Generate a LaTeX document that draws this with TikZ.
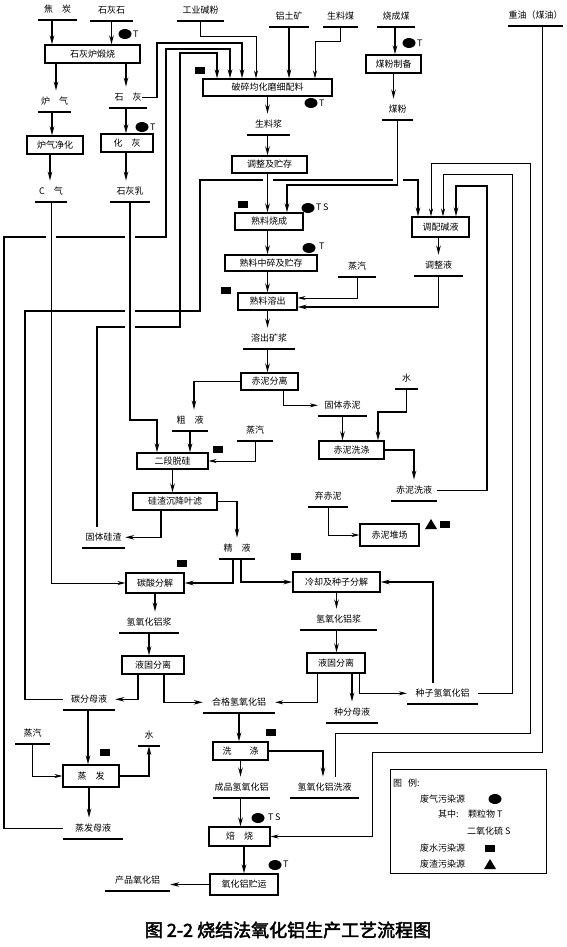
\documentclass[tikz,border=0pt]{standalone}
\usepackage{fontspec}
\setmainfont{Noto Sans CJK SC}[AutoFakeBold=2.5]
\usetikzlibrary{arrows.meta}
\newcommand\cjksp{\hspace{9pt}}
\newcommand\blob[2]{\fill (#1,#2) ellipse [x radius=6.5pt, y radius=5pt];}
\newcommand\wsq[2]{\fill (#1-5,#2-3.5) rectangle (#1+5,#2+3.5);}
\newcommand\tri[2]{\fill (#1-6,#2+5) -- (#1+6,#2+5) -- (#1,#2-5) -- cycle;}
\newcommand\crossgap[3]{\fill[white] (#1-5,#2-2.6) rectangle (#1+5,#2+2.6); \draw[line width=#3] (#1,#2-3.5) -- (#1,#2+3.5);}
\begin{document}
\begin{tikzpicture}[x=1pt,y=-1pt,
  every node/.style={font=\fontsize{9}{10}\selectfont},
  bx/.style 2 args={draw,line width=1.1pt,inner sep=0pt,minimum width=#1pt,minimum height=#2pt},
  lab/.style={anchor=south,inner xsep=0pt,inner ysep=6pt,text height=7.5pt,text depth=1.5pt,minimum width=#1pt},
  uline/.style={line width=1.6pt},
  flow/.style={line width=1.5pt,-{Stealth[length=9pt,width=4.5pt]}},
  thin/.style={line width=0.8pt,-{Stealth[length=8pt,width=4pt]}},
  mk/.style={anchor=west,inner sep=0pt}]
\fill[white] (0,0) rectangle (567,947);
\useasboundingbox (0,0) rectangle (567,947);

% ---------- nodes ----------
\node[lab=39] (jt) at (57.5,20) {焦\cjksp 炭};
\node[lab=43] (shs) at (111.5,21) {石灰石};
\node[lab=47] (gyjf) at (200.5,21) {工业碱粉};
\node[lab=40] (lt) at (289,27) {铝土矿};
\node[lab=35] (slm) at (340.5,27) {生料煤};
\node[lab=38] (scm) at (396,27) {烧成煤};
\node[lab=55] (zy) at (535.5,26) {重油（煤油）};
\node[bx={95}{18}] (shlds) at (92.5,54) {石灰炉煅烧};
\node[lab=33] (lq) at (54.5,112) {炉\cjksp 气};
\node[bx={56}{18}] (lqjh) at (55,145) {炉气净化};
\node[lab=32] (cq) at (51,202) {C\cjksp 气};
\node[lab=38] (sh) at (128,108) {石\cjksp 灰};
\node[bx={52}{18}] (hh) at (127,143) {化\cjksp 灰};
\node[lab=40] (shr) at (130,202) {石灰乳};
\node[bx={129}{17}] (psjh) at (267.5,87.5) {破碎均化磨细配料};
\node[bx={55}{18}] (mfzb) at (393.5,64) {煤粉制备};
\node[lab=31] (mf) at (397.5,120) {煤粉};
\node[lab=43] (slj) at (268.5,135) {生料浆};
\node[bx={75}{17}] (tzzc) at (269.5,164.5) {调整及贮存};
\node[bx={68}{17}] (slsc) at (269,221.5) {熟料烧成};
\node[bx={92}{16}] (slzs) at (271,263) {熟料中碎及贮存};
\node[bx={59}{17}] (slrc) at (267.5,301.5) {熟料溶出};
\node[lab=52] (rckj) at (269,349) {溶出矿浆};
\node[bx={57}{17}] (nfl) at (269.5,381.5) {赤泥分离};
\node[lab=36] (cy) at (190,431) {粗\cjksp 液};
\node[lab=49] (gtcn) at (342.5,416) {固体赤泥};
\node[bx={65}{18}] (cnxd) at (351.5,450) {赤泥洗涤};
\node[lab=23] (s1) at (406.5,389) {水};
\node[lab=46] (cnxy) at (414,501) {赤泥洗液};
\node[lab=40] (qcn) at (328,507) {弃赤泥};
\node[bx={59}{22}] (cndc) at (389.5,535) {赤泥堆场};
\node[bx={57}{20}] (tpjy) at (440.5,227) {调配碱液};
\node[lab=49] (tzy) at (438.5,276) {调整液};
\node[lab=38] (zq1) at (357,277) {蒸汽};
\node[bx={71}{16}] (edtg) at (172.5,461) {二段脱硅};
\node[lab=36] (zq2) at (255,441) {蒸汽};
\node[bx={84}{17}] (gzcj) at (175,501.5) {硅渣沉降叶滤};
\node[lab=36] (jy) at (237,559) {精\cjksp 液};
\node[lab=43] (gtgz) at (103.5,548) {固体硅渣};
\node[bx={58}{20}] (tsfj) at (155,583) {碳酸分解};
\node[bx={87}{20}] (lqzf) at (336.5,582) {冷却及种子分解};
\node[lab=60] (qyh1) at (149,633) {氢氧化铝浆};
\node[lab=77] (qyh2) at (338.5,630) {氢氧化铝浆};
\node[bx={62}{18}] (ygfl1) at (153,665) {液固分离};
\node[bx={58}{20}] (ygfl2) at (336,663) {液固分离};
\node[lab=52] (tfmy) at (89,710) {碳分母液};
\node[lab=72] (hg) at (239,713) {合格氢氧化铝};
\node[lab=52] (zfmy) at (352,723) {种分母液};
\node[lab=71] (zzq) at (442.5,704) {种子氢氧化铝};
\node[bx={55}{18}] (xd) at (240.5,751) {洗\cjksp\cjksp 涤};
\node[lab=69] (qxy) at (324.5,798) {氢氧化铝洗液};
\node[lab=57] (cp) at (241.5,798) {成品氢氧化铝};
\node[bx={61}{19}] (bs) at (239.5,836.5) {焙\cjksp 烧};
\node[bx={68}{21}] (cy2) at (244,884.5) {氧化铝贮运};
\node[lab=65] (cpy) at (137.5,891) {产品氧化铝};
\node[lab=35] (zq3) at (32.5,744) {蒸汽};
\node[lab=22] (s2) at (149,746) {水};
\node[bx={56}{22}] (zf) at (91,776) {蒸\cjksp 发};
\node[lab=60] (zfmy2) at (93,839) {蒸发母液};

\foreach \n in {jt,shs,gyjf,lt,slm,scm,zy,lq,cq,sh,shr,mf,slj,rckj,cy,gtcn,s1,cnxy,qcn,tzy,zq1,zq2,jy,gtgz,qyh1,qyh2,tfmy,hg,zfmy,zzq,qxy,cp,cpy,zq3,s2,zfmy2}
  \draw[uline] (\n.south west) -- (\n.south east);

% ---------- connectors: top ----------
\draw[flow] ([xshift=-5.5pt]jt.south) -- ([xshift=-40.5pt]shlds.north);
\draw[flow] (shs.south) -- ([xshift=19pt]shlds.north);
\draw[flow] ([xshift=-36.5pt]shlds.south) -- ([xshift=1.5pt]lq.north);
\draw[flow] ([xshift=-2.5pt]lq.south) -- ([xshift=-3pt]lqjh.north);
\draw[flow] ([xshift=-5pt]lqjh.south) -- ([xshift=-1pt]cq.north);
\draw[flow] ([xshift=33.5pt]shlds.south) -- ([xshift=-2pt]sh.north);
\draw[flow] ([xshift=-2pt]sh.south) -- ([xshift=-1pt]hh.north);
\draw[flow] ([xshift=-1pt]hh.south) -- ([xshift=-4pt]shr.north);
\draw[flow] ([xshift=-5pt]sh.east) -| (157,43) -| ([xshift=-25.5pt]psjh.north);
\draw[thin] (gyjf.south) |- (256,36) -- ([xshift=-11.5pt]psjh.north);
\draw[flow] (lt.south) -- ([xshift=21.5pt]psjh.north);
\draw[thin] (slm.south) |- (315,41) -- ([xshift=47.5pt]psjh.north);
\draw[flow] ([xshift=-1pt]scm.south) -- ([xshift=1.5pt]mfzb.north);
\draw[flow] (mfzb.south) -- ([xshift=-4pt]mf.north);
\draw[flow] (mf.south) |- (287,185) -- ([xshift=18pt]slsc.north);

% ---------- main column ----------
\draw[flow] (psjh.south) -- ([xshift=-1pt]slj.north);
\draw[flow] ([xshift=-1pt]slj.south) -- ([xshift=-2pt]tzzc.north);
\draw[flow] ([xshift=-2pt]tzzc.south) -- ([xshift=-1.5pt]slsc.north);
\draw[flow] ([xshift=-1.5pt]slsc.south) -- ([xshift=-3.5pt]slzs.north);
\draw[flow] ([xshift=-3.5pt]slzs.south) -- (slrc.north);
\draw[flow] (slrc.south) -- ([xshift=-1.5pt]rckj.north);
\draw[flow] ([xshift=-1.5pt]rckj.south) -- ([xshift=-2pt]nfl.north);
\draw[flow] (nfl.west) -| ([xshift=4pt]cy.north);
\draw[thin] ([xshift=13.5pt]nfl.south) |- (gtcn.west);
\draw[flow] (gtcn.south) -- ([xshift=-9pt]cnxd.north);
\draw[flow] (s1.south) |- (378,412) -- ([xshift=26.5pt]cnxd.north);
\draw[flow] (cnxd.east) -| (cnxy.north);
\draw[thin] (qcn.south) |- (cndc.west);

% ---------- recycle lines ----------
\draw[flow] (cnxy.east) -| (487,186) -| ([xshift=15.5pt]tpjy.north);
\draw[thin] (zzq.east) -| (512,174) -| ([xshift=2.5pt]tpjy.north);
\draw[thin] ([xshift=10.5pt]qxy.north) |- (530,733) |- (431,163) -- ([xshift=-9.5pt]tpjy.north);
\draw[flow] (tfmy.west) -| (25,311) -| (200,180) -| ([xshift=-22.5pt]tpjy.north);
\draw[flow] ([xshift=-6.5pt]gtgz.north) |- (180,327) |- (217,53) -- ([xshift=-50.5pt]psjh.north);
\draw[flow] (zfmy2.west) -| (4,237) -| (166,49) -| ([xshift=-37.5pt]psjh.north);
\draw[thin] ([xshift=6.5pt]zy.south) |- (372,752) |- (bs.east);

\draw[flow] (tzy.north |- tpjy.south) -- (tzy.north);
\draw[flow] (tzy.south) |- ([yshift=-5.5pt]slrc.east);
\draw[thin] (zq1.south) |- ([yshift=3.5pt]slrc.east);

% ---------- desilication / decomposition ----------
\draw[flow] (shr.south) |- (157,420) -- ([xshift=-15.5pt]edtg.north);
\draw[flow] (cy.south) -- ([xshift=17.5pt]edtg.north);
\draw[thin] (zq2.south) |- (edtg.east);
\draw[flow] (edtg.south) -- ([xshift=-2.5pt]gzcj.north);
\draw[flow] (gzcj.east) -| (jy.north);
\draw[flow] ([xshift=-14pt]gzcj.south) |- (gtgz.east);
\draw[flow] ([xshift=-4pt]jy.south) |- (tsfj.east);
\draw[flow] ([xshift=4pt]jy.south) |- (lqzf.west);
\draw[thin] (cq.south) |- (tsfj.west);
\draw[flow] (tsfj.south) -- ([xshift=6pt]qyh1.north);
\draw[flow] (qyh1.south) -- ([xshift=-4pt]ygfl1.north);
\draw[flow] ([xshift=-15pt]ygfl1.south) |- (tfmy.east);
\draw[flow] ([xshift=11pt]ygfl1.south) |- (hg.west);
\draw[flow] (lqzf.south) -- ([xshift=-2pt]qyh2.north);
\draw[flow] ([xshift=-2pt]qyh2.south) -- ([xshift=0.5pt]ygfl2.north);
\draw[thin] ([xshift=-19pt]ygfl2.south) |- (hg.east);
\draw[flow] ([xshift=16pt]ygfl2.south) -- (zfmy.north);
\draw[thin] ([xshift=23pt]ygfl2.south) |- (zzq.west);
\draw[flow] ([xshift=-9.5pt]zzq.north) |- (lqzf.east);
\draw[flow] (hg.south) -- ([xshift=-1.5pt]xd.north);
\draw[flow] (xd.east) -| ([xshift=-1.5pt]qxy.north);
\draw[flow] (xd.south) -- ([xshift=-1pt]cp.north);
\draw[flow] ([xshift=-1pt]cp.south) -- ([xshift=1pt]bs.north);
\draw[flow] ([xshift=4.5pt]bs.south) -- (cy2.north);
\draw[flow] (cy2.west) -- (cy2.west -| cpy.east);
\draw[flow] ([xshift=-1pt]tfmy.south) -- ([xshift=-3pt]zf.north);
\draw[flow] ([xshift=-2pt]zf.south) -- ([xshift=-4pt]zfmy2.north);
\draw[thin] (zq3.south) |- (zf.west);
\draw[flow] (zf.east) -| (s2.south);

% ---------- crossing gaps ----------
\crossgap{51}{237}{0.8pt}
\crossgap{130}{237}{1.5pt}
\crossgap{130}{311}{1.5pt}
\crossgap{130}{327}{1.5pt}
\crossgap{267.5}{180}{1.5pt}
\crossgap{397.5}{180}{1.5pt}

% ---------- pollution markers ----------
\blob{125}{34} \node[mk] at (133,34) {T};
\blob{142}{127} \node[mk] at (150,127) {T};
\blob{311}{103} \node[mk] at (319,103) {T};
\blob{409}{43} \node[mk] at (417,43) {T};
\blob{308}{208} \node[mk] at (316,207) {T\,S};
\blob{309}{248} \node[mk] at (319,246) {T};
\blob{258}{818} \node[mk] at (268,817) {T\,S};
\blob{275}{865} \node[mk] at (283,864) {T};
\wsq{200}{71} \wsq{243}{204} \wsq{226}{290} \wsq{218}{449}
\wsq{182}{563} \wsq{296}{556} \wsq{271}{732} \wsq{105}{752}
\tri{431}{524} \wsq{445}{524}

% ---------- legend ----------
\node[draw,line width=1.2pt,minimum width=156pt,minimum height=104pt,anchor=north west,inner sep=0pt] (leg) at (390,769) {};
\node[mk] at (393,783) {图\hspace{6pt}例:};
\node[mk] at (420,799) {废气污染源}; \blob{495}{799}
\node[mk] at (438,814) {其中:};
\node[mk] at (468,814) {颗粒物 T};
\node[mk] at (467,831) {二氧化硫 S};
\node[mk] at (420,848) {废水污染源}; \wsq{490}{848}
\node[mk] at (420,864) {废渣污染源}; \tri{490}{864}

% ---------- title ----------
\node[font=\fontsize{18}{20}\selectfont\bfseries] (title) at (288,930) {图 2-2 烧结法氧化铝生产工艺流程图};
\end{tikzpicture}
\end{document}
